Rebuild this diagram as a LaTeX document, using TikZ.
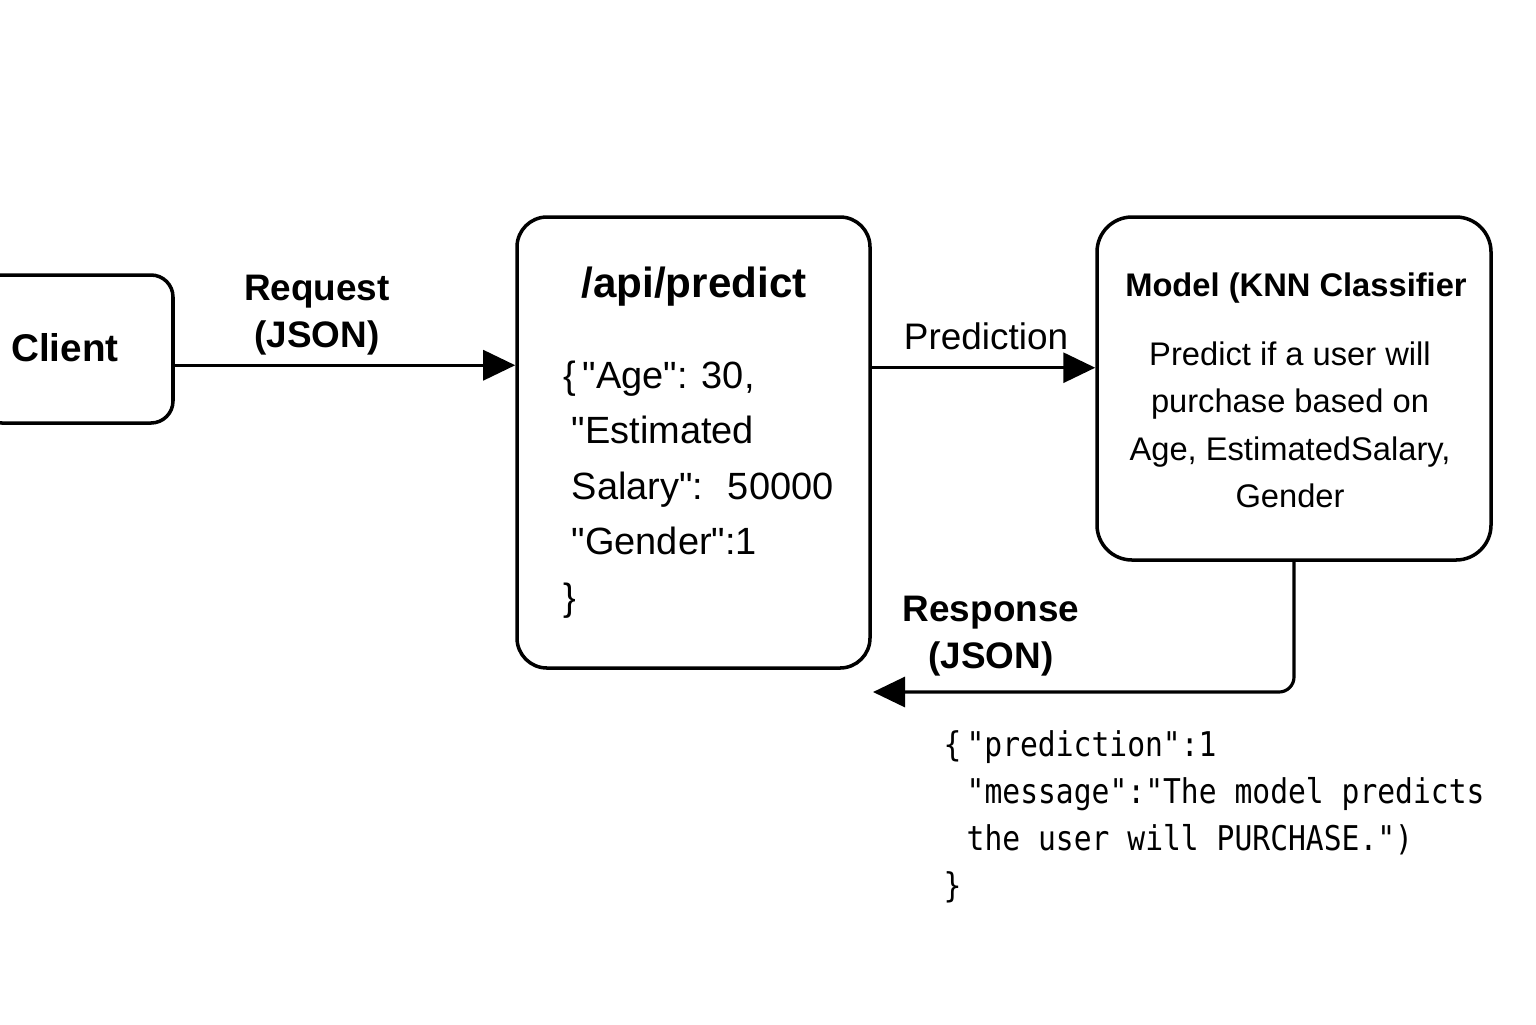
\documentclass[tikz,border=0pt]{standalone}
\usepackage{fontspec}
\setmainfont{Liberation Sans}
\newfontfamily\codefont{DejaVu Sans Mono}[FakeStretch=0.87]
\usetikzlibrary{positioning}
\usetikzlibrary{calc}
\usetikzlibrary{arrows.meta}

\begin{document}
\begin{tikzpicture}[
box/.style={draw, line width=1pt, rounded corners=0.3cm},
flow/.style={-{Triangle[length=0.32cm,width=0.3cm]}, line width=0.9pt},
lbl/.style={font=\bfseries\fontsize{10.5}{13.4}\selectfont, align=center, inner sep=0}
]
\useasboundingbox (0,0) rectangle (15.36,-10.24);

\node[box, minimum width=1.93cm, minimum height=1.48cm, rounded corners=0.22cm](client) at (0.765,-3.49){};
\node[box, minimum width=3.53cm, minimum height=4.51cm](api) at (6.935,-4.425){};
\node[box, minimum width=3.94cm, minimum height=3.43cm, rounded corners=0.35cm](model) at (12.94,-3.885){};

\node[font=\bfseries\fontsize{11}{13}\selectfont](clienttxt) at (0.65,-3.48){Client};
\node[font=\bfseries\fontsize{12}{14}\selectfont](apititle) at (6.94,-2.87){/api/predict};
\node[font=\fontsize{10.8}{15.8}\selectfont, align=left, anchor=north west, inner sep=0](apibody) at (5.63,-3.60){\{\,\textquotedbl Age\textquotedbl: 30,\\
\hspace*{0.08cm}\textquotedbl Estimated\\
\hspace*{0.08cm}Salary\textquotedbl: \ 50000\\
\hspace*{0.08cm}\textquotedbl Gender\textquotedbl:1\\
\}};
\node[font=\bfseries\fontsize{9.3}{11}\selectfont](modeltitle) at (12.96,-2.88){Model (KNN Classifier};
\node[font=\fontsize{9.3}{13.5}\selectfont, align=center](modelbody) at (12.9,-4.25){Predict if a user will\\
purchase based on\\
Age, EstimatedSalary,\\
Gender};

\node[lbl](request) at (3.17,-3.15){Request\\(JSON)};
\node[font=\fontsize{10.5}{13}\selectfont](prediction) at (9.86,-3.36){Prediction};
\node[lbl](response) at (9.91,-6.36){Response\\(JSON)};

\node[font=\codefont\fontsize{9.7}{13.4}\selectfont, align=left, anchor=north west, inner sep=0](answer) at (9.43,-7.30){\{\hspace*{0.05cm}"prediction":1\\
\hspace*{0.23cm}"message":"The model predicts\\
\hspace*{0.23cm}the user will PURCHASE.")\\
\}};

\coordinate (reqin) at ($(api.north west)!0.33!(api.south west)$);
\coordinate (predin) at ($(model.north west)!0.44!(model.south west)$);
\coordinate (respend) at (8.73,-6.92);

\draw[flow] (reqin -| client.east) -- (reqin);
\draw[flow] (predin -| api.east) -- (predin);
\draw[flow, rounded corners=0.15cm] (model.south) |- (respend);
\end{tikzpicture}
\end{document}
